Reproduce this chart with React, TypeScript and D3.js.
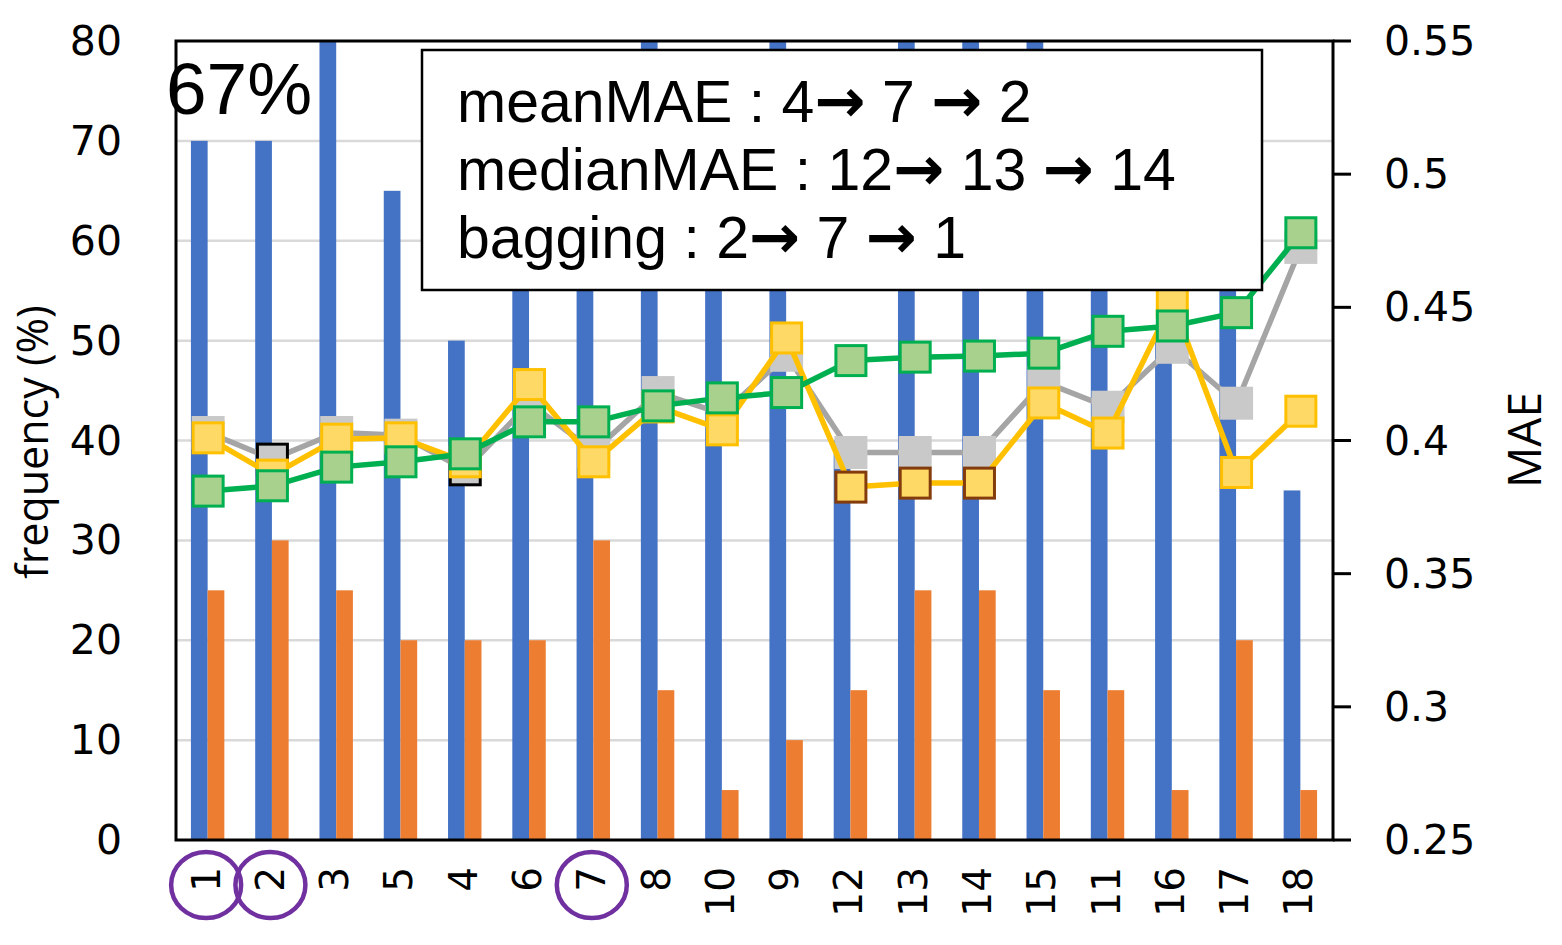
import React, { useRef, useEffect } from 'react';
import * as d3 from 'd3';

// categories in the order they appear on the x axis
const categories = ['1', '2', '3', '5', '4', '6', '7', '8', '10', '9', '12', '13', '14', '15', '11', '16', '17', '18'];

// frequency (%) — left axis
const freqBlue = [70, 70, 80, 65, 50, 60, 60, 80, 60, 80, 40, 80, 80, 80, 55, 50, 55, 35];
const freqOrange = [25, 30, 25, 20, 20, 20, 30, 15, 5, 10, 15, 25, 25, 15, 15, 5, 20, 5];

// MAE — right axis
const maeGray = [0.403, 0.393, 0.403, 0.402, 0.389, 0.414, 0.396, 0.418, 0.41, 0.432, 0.3955, 0.3955, 0.3955, 0.422, 0.4125, 0.435, 0.414, 0.4725];
const maeYellow = [0.401, 0.387, 0.4005, 0.401, 0.392, 0.421, 0.392, 0.4126, 0.404, 0.4385, 0.3825, 0.384, 0.384, 0.4141, 0.4028, 0.452, 0.388, 0.411];
const maeGreen = [0.381, 0.383, 0.39, 0.392, 0.395, 0.407, 0.407, 0.413, 0.416, 0.418, 0.43, 0.4313, 0.4317, 0.4328, 0.441, 0.443, 0.448, 0.478];

// highlighted markers
const grayOutlined = ['2', '4'];
const yellowOutlined = ['12', '13', '14'];
const circledLabels = ['1', '2', '7'];

const leftTicks = [0, 10, 20, 30, 40, 50, 60, 70, 80];
const rightTicks = [0.25, 0.3, 0.35, 0.4, 0.45, 0.5, 0.55];

// each note line split into text pieces, the arrows drawn in a heavier face
const noteLines = [
  ['meanMAE : 4', '→', ' 7 ', '→', ' 2'],
  ['medianMAE : 12', '→', ' 13 ', '→', ' 14'],
  ['bagging : 2', '→', ' 7 ', '→', ' 1'],
];

const W = 1562;
const H = 945;
const plot = { left: 176, right: 1333, top: 41, bottom: 840 };

const numFont = '"DejaVu Sans", sans-serif';
const titleFont = '"Open Sans", "Noto Sans", sans-serif';
const boxFont = '"Liberation Sans", Arial, sans-serif';

export default function App() {
  const svgRef = useRef<SVGSVGElement>(null);

  useEffect(() => {
    if (!svgRef.current) return;
    const svg = d3.select(svgRef.current);
    svg.selectAll('*').remove();

    const x = d3.scaleBand().domain(categories).range([plot.left, plot.right]).padding(0);
    const yL = d3.scaleLinear().domain([0, 80]).range([plot.bottom, plot.top]);
    const yR = d3.scaleLinear().domain([0.25, 0.55]).range([plot.bottom, plot.top]);
    const cx = (c: string) => (x(c) as number) + x.bandwidth() / 2;
    const barW = x.bandwidth() * 0.26;

    svg.append('rect').attr('width', W).attr('height', H).attr('fill', '#fff');

    // gridlines
    svg.append('g')
      .selectAll('line')
      .data(leftTicks.slice(1, -1))
      .enter().append('line')
      .attr('x1', plot.left).attr('x2', plot.right)
      .attr('y1', d => yL(d)).attr('y2', d => yL(d))
      .attr('stroke', '#d9d9d9').attr('stroke-width', 2.5);

    // bars
    const bars = svg.append('g');
    bars.selectAll('.blue')
      .data(freqBlue)
      .enter().append('rect')
      .attr('x', (d, i) => cx(categories[i]) - barW - 0.5)
      .attr('y', d => yL(d))
      .attr('width', barW)
      .attr('height', d => plot.bottom - yL(d))
      .attr('fill', '#4472C4');
    bars.selectAll('.orange')
      .data(freqOrange)
      .enter().append('rect')
      .attr('x', (d, i) => cx(categories[i]) - 0.5)
      .attr('y', d => yL(d))
      .attr('width', barW)
      .attr('height', d => plot.bottom - yL(d))
      .attr('fill', '#ED7D31');

    // MAE series
    const series = [
      { values: maeGray, line: '#A5A5A5', fill: '#C9C9C9', stroke: '#C9C9C9', outlined: grayOutlined, outline: '#000' },
      { values: maeYellow, line: '#FFC000', fill: '#FFD966', stroke: '#FFC000', outlined: yellowOutlined, outline: '#843C0C' },
      { values: maeGreen, line: '#00B050', fill: '#A9D18E', stroke: '#00B050', outlined: [] as string[], outline: '#00B050' },
    ];
    const ms = 30;
    const lineGen = d3.line<number>()
      .x((d, i) => cx(categories[i]))
      .y(d => yR(d));

    series.forEach(s => {
      const g = svg.append('g');
      g.append('path')
        .attr('d', lineGen(s.values))
        .attr('fill', 'none')
        .attr('stroke', s.line)
        .attr('stroke-width', 5.5)
        .attr('stroke-linejoin', 'round');
      g.selectAll('rect')
        .data(s.values)
        .enter().append('rect')
        .attr('x', (d, i) => cx(categories[i]) - ms / 2)
        .attr('y', d => yR(d) - ms / 2)
        .attr('width', ms)
        .attr('height', ms)
        .attr('fill', s.fill)
        .attr('stroke', (d, i) => s.outlined.includes(categories[i]) ? s.outline : s.stroke)
        .attr('stroke-width', 3);
    });

    // plot frame
    svg.append('rect')
      .attr('x', plot.left).attr('y', plot.top)
      .attr('width', plot.right - plot.left).attr('height', plot.bottom - plot.top)
      .attr('fill', 'none').attr('stroke', '#000').attr('stroke-width', 3);

    // right axis ticks
    svg.append('g')
      .selectAll('line')
      .data(rightTicks)
      .enter().append('line')
      .attr('x1', plot.right).attr('x2', plot.right + 18)
      .attr('y1', d => yR(d)).attr('y2', d => yR(d))
      .attr('stroke', '#000').attr('stroke-width', 3);

    // left tick labels
    svg.append('g')
      .selectAll('text')
      .data(leftTicks)
      .enter().append('text')
      .attr('x', 122)
      .attr('y', d => yL(d))
      .attr('text-anchor', 'end')
      .attr('dominant-baseline', 'central')
      .attr('font-family', numFont)
      .attr('font-size', 41)
      .text(d => d);

    // right tick labels
    svg.append('g')
      .selectAll('text')
      .data(rightTicks)
      .enter().append('text')
      .attr('x', 1384)
      .attr('y', d => yR(d))
      .attr('dominant-baseline', 'central')
      .attr('font-family', numFont)
      .attr('font-size', 41)
      .text(d => String(d));

    // x labels
    svg.append('g')
      .selectAll('text')
      .data(categories)
      .enter().append('text')
      .attr('transform', d => `translate(${cx(d) - 2},867) rotate(-90)`)
      .attr('text-anchor', 'end')
      .attr('dominant-baseline', 'central')
      .attr('font-family', numFont)
      .attr('font-size', 39)
      .text(d => d);

    // circled labels
    svg.append('g')
      .selectAll('ellipse')
      .data(circledLabels)
      .enter().append('ellipse')
      .attr('cx', d => cx(d) - 2)
      .attr('cy', 885)
      .attr('rx', 35)
      .attr('ry', 33)
      .attr('fill', 'none')
      .attr('stroke', '#7030A0')
      .attr('stroke-width', 4.5);

    // axis titles
    svg.append('text')
      .attr('transform', 'translate(48,442) rotate(-90)')
      .attr('text-anchor', 'middle')
      .attr('font-family', titleFont)
      .attr('font-size', 43)
      .text('frequency (%)');
    svg.append('text')
      .attr('transform', 'translate(1541,440) rotate(-90)')
      .attr('text-anchor', 'middle')
      .attr('font-family', titleFont)
      .attr('font-size', 46)
      .text('MAE');

    // annotation box
    svg.append('rect')
      .attr('x', 422).attr('y', 50)
      .attr('width', 840).attr('height', 240)
      .attr('fill', '#fff').attr('stroke', '#000').attr('stroke-width', 2.5);
    const notes = svg.append('g')
      .selectAll('text')
      .data(noteLines)
      .enter().append('text')
      .attr('x', 457)
      .attr('y', (d, i) => 122 + i * 68)
      .attr('font-family', boxFont)
      .attr('font-size', 59)
      .style('white-space', 'pre');
    notes.selectAll('tspan')
      .data(d => d)
      .enter().append('tspan')
      .attr('font-family', d => d === '→' ? '"DejaVu Sans", sans-serif' : null)
      .attr('font-weight', d => d === '→' ? 'bold' : null)
      .attr('font-size', d => d === '→' ? 61 : null)
      .text(d => d);

    svg.append('text')
      .attr('x', 166).attr('y', 114)
      .attr('font-family', boxFont)
      .attr('font-size', 73)
      .text('67%');
  }, []);

  return (
    <div style={{ position: 'absolute', left: 0, top: 0 }}>
      <svg ref={svgRef} width={W} height={H} style={{ display: 'block' }} />
    </div>
  );
}
